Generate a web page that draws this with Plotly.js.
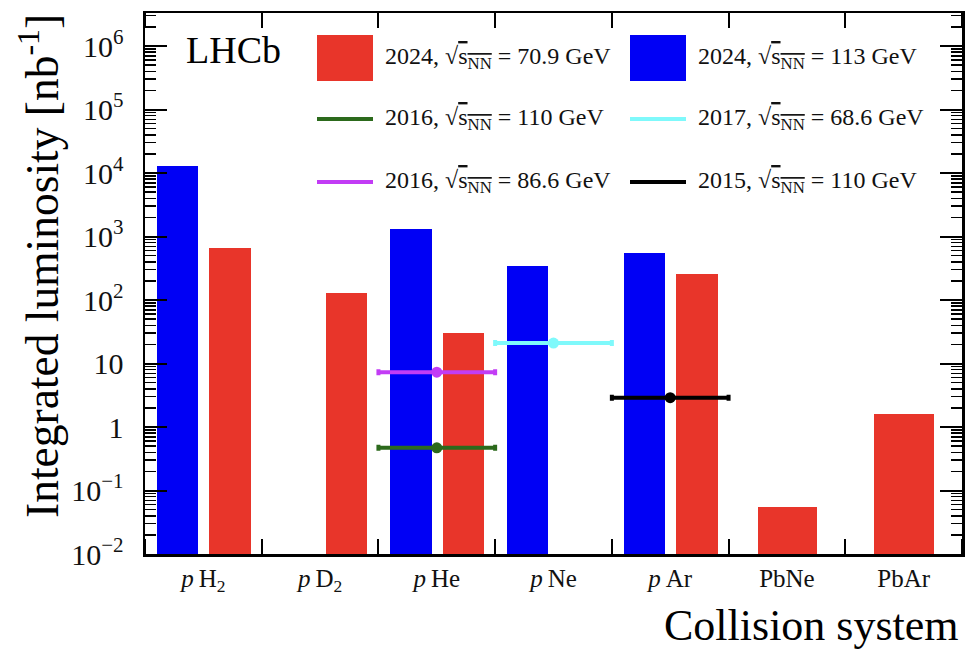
<!DOCTYPE html>
<html>
<head>
<meta charset="utf-8">
<script src="https://cdn.plot.ly/plotly-3.0.1.min.js"></script>
<style>html,body{margin:0;padding:0;background:#fff;}</style>
</head>
<body>
<div id="chart" style="width:968px;height:650px;"></div>
<script>
// ---- data ----
const categories = ["<i>p</i>\u2009H<sub>2</sub>", "<i>p</i>\u2009D<sub>2</sub>", "<i>p</i>\u2009He", "<i>p</i>\u2009Ne", "<i>p</i>\u2009Ar", "PbNe", "PbAr"];
const lumi2024_113GeV = [13000, null, 1320, 340, 550, null, null];
const lumi2024_709GeV = [660, 129, 30, null, 255, 0.054, 1.63];

const pointNames = ["2016, 110 GeV", "2017, 68.6 GeV", "2016, 86.6 GeV", "2015, 110 GeV"];
const pointCats = ["<i>p</i>\u2009He", "<i>p</i>\u2009Ne", "<i>p</i>\u2009He", "<i>p</i>\u2009Ar"];
const pointValues = [0.47, 21, 7.3, 2.9];

const yTickVals = [0.01, 0.1, 1, 10, 100, 1000, 10000, 100000, 1000000];
const yTickText = ["10<sup>\u22122</sup>", "10<sup>\u22121</sup>", "1", "10", "10<sup>2</sup>", "10<sup>3</sup>", "10<sup>4</sup>", "10<sup>5</sup>", "10<sup>6</sup>"];

// ---- styles ----
const RED = "#e8352a", BLUE = "#0000f5";
const pointColors = ["#2c6a1c", "#7ff9fb", "#c23cf5", "#000000"];
const FONT = "Liberation Serif, Times New Roman, serif";
// bar geometry (in category units), per category
const blueWidth = 0.357, blueOffset = -0.4;
const redWidths = [0.357, 0.357, 0.357, 0.357, 0.357, 0.509, 0.509];
const redOffsets = [0.049, 0.049, 0.049, 0.049, 0.049, -0.252, -0.252];

// numeric positions of categories (index on the axis)
const catIndex = categories.map((c, i) => i);
const boundaries = categories.map((c, i) => i - 0.5).concat([categories.length - 0.5]);

const traces = [
  {type: "bar", x: catIndex, y: lumi2024_113GeV, marker: {color: BLUE, line: {width: 0}},
   width: blueWidth, offset: blueOffset, showlegend: false, name: "2024, 113 GeV"},
  {type: "bar", x: catIndex, y: lumi2024_709GeV, marker: {color: RED, line: {width: 0}},
   width: redWidths, offset: redOffsets, showlegend: false, name: "2024, 70.9 GeV"}
];
for (let i = 0; i < pointValues.length; i++) {
  traces.push({type: "scatter", mode: "markers", x: [categories.indexOf(pointCats[i])], y: [pointValues[i]],
    marker: {color: pointColors[i], size: 11},
    error_x: {type: "constant", value: 0.5, color: pointColors[i], thickness: 4, width: 3},
    showlegend: false, name: pointNames[i]});
}

// pixel -> paper helpers for layout decoration
const L = 145, R = 6, T = 13, B = 96, W = 968, H = 650;
const pw = W - L - R, ph = H - T - B;
const px = v => (v - L) / pw;
const py = v => (H - B - v) / ph;

const sq = "√<span style='text-decoration:overline'>s<sub>NN</sub></span>";
const legendItems = [
  {label: "2024, " + sq + " = 70.9 GeV", color: RED, kind: "box", col: 0, row: 0},
  {label: "2024, " + sq + " = 113 GeV", color: BLUE, kind: "box", col: 1, row: 0},
  {label: "2016, " + sq + " = 110 GeV", color: pointColors[0], kind: "line", col: 0, row: 1},
  {label: "2017, " + sq + " = 68.6 GeV", color: pointColors[1], kind: "line", col: 1, row: 1},
  {label: "2016, " + sq + " = 86.6 GeV", color: pointColors[2], kind: "line", col: 0, row: 2},
  {label: "2015, " + sq + " = 110 GeV", color: pointColors[3], kind: "line", col: 1, row: 2}
];
const colX = [317, 630], rowY = [58, 119, 182];
const shapes = [], annotations = [];
legendItems.forEach(it => {
  const x0 = colX[it.col], yc = rowY[it.row];
  if (it.kind === "box") {
    shapes.push({type: "rect", xref: "paper", yref: "paper", x0: px(x0), x1: px(x0 + 56),
      y0: py(yc + 23), y1: py(yc - 23), fillcolor: it.color, line: {width: 0}, layer: "above"});
  } else {
    shapes.push({type: "line", xref: "paper", yref: "paper", x0: px(x0), x1: px(x0 + 56),
      y0: py(yc), y1: py(yc), line: {color: it.color, width: 4}, layer: "above"});
  }
  annotations.push({xref: "paper", yref: "paper", x: px(x0 + 66), y: py(yc), xanchor: "left", yanchor: "middle",
    text: it.label, showarrow: false, font: {family: FONT, size: 24, color: "#111"}});
});
annotations.push({xref: "paper", yref: "paper", x: px(184), y: py(50), xanchor: "left", yanchor: "middle",
  text: "LHCb", showarrow: false, font: {family: FONT, size: 38, color: "#000"}});
annotations.push({xref: "paper", yref: "paper", x: px(961), y: py(625), xanchor: "right", yanchor: "middle",
  text: "Collision system", showarrow: false, font: {family: FONT, size: 44, color: "#000"}});
annotations.push({xref: "paper", yref: "paper", x: px(39), y: py(12), xanchor: "center", yanchor: "top",
  textangle: -90, text: "Integrated luminosity [nb<sup>-1</sup>]", showarrow: false,
  font: {family: FONT, size: 45.5, color: "#000"}});

const layout = {
  width: W, height: H,
  margin: {l: L, r: R, t: T, b: B},
  paper_bgcolor: "#fff", plot_bgcolor: "#fff",
  font: {family: FONT, color: "#000"},
  bargap: 0,
  showlegend: false,
  xaxis: {
    type: "linear", range: [-0.5, categories.length - 0.5],
    tickmode: "array", tickvals: catIndex, ticktext: categories,
    ticks: "", ticklen: 0,
    minor: {tickmode: "array", tickvals: boundaries, ticks: "inside", ticklen: 15, tickwidth: 2, tickcolor: "#000", showgrid: false},
    showline: true, linewidth: 2.5, linecolor: "#000", mirror: "ticks",
    showgrid: false, zeroline: false,
    tickfont: {family: FONT, size: 25, color: "#111"}, ticklabelstandoff: 0
  },
  yaxis: {
    type: "log", range: [-2, 6.52],
    tickmode: "array", tickvals: yTickVals, ticktext: yTickText,
    ticks: "inside", ticklen: 22, tickwidth: 2, tickcolor: "#000",
    minor: {ticks: "inside", ticklen: 11, tickwidth: 1.5, tickcolor: "#000", dtick: "D1", showgrid: false},
    showline: true, linewidth: 2.5, linecolor: "#000", mirror: "ticks",
    showgrid: false, zeroline: false,
    tickfont: {family: FONT, size: 30, color: "#111"}, ticklabelstandoff: 13
  },
  shapes: shapes,
  annotations: annotations
};

Plotly.newPlot("chart", traces, layout, {displayModeBar: false, staticPlot: true});
</script>
</body>
</html>
